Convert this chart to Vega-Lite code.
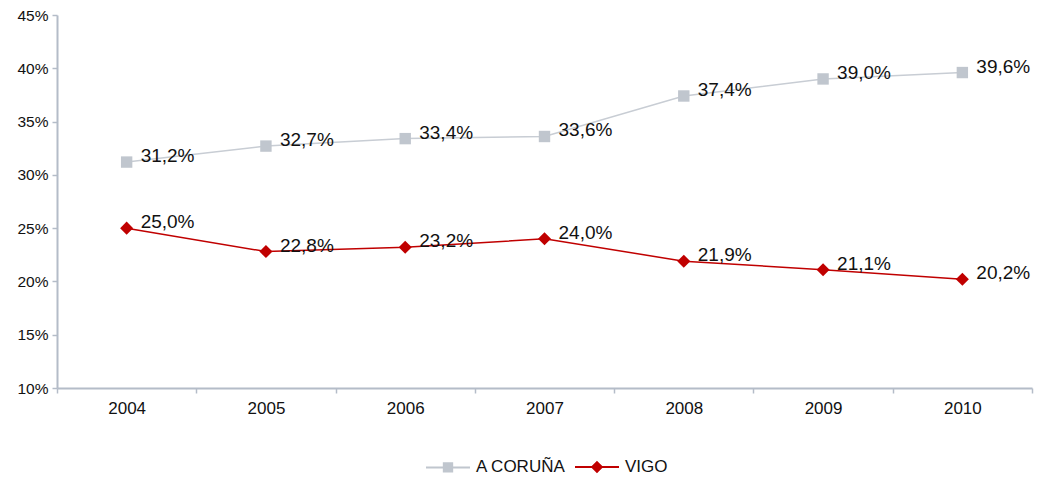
{
  "$schema": "https://vega.github.io/schema/vega-lite/v6.json",
  "width": 975,
  "height": 373,
  "autosize": {"type": "none"},
  "padding": {"left": 57, "top": 15, "right": 7, "bottom": 91},
  "background": "white",
  "config": {
    "view": {"stroke": null},
    "font": "Liberation Sans",
    "locale": {"number": {"decimal": ",", "thousands": ".", "grouping": [3], "currency": ["", " €"]}},
    "axis": {"grid": false, "domainColor": "#B4BCC8", "tickColor": "#B4BCC8", "domainWidth": 2, "tickWidth": 1.5, "tickSize": 5, "labelColor": "#111111", "labelFont": "Liberation Sans", "title": null}
  },
  "data": {"values": [
    {"year": "2004", "series": "A CORUÑA", "value": 0.312},
    {"year": "2005", "series": "A CORUÑA", "value": 0.327},
    {"year": "2006", "series": "A CORUÑA", "value": 0.334},
    {"year": "2007", "series": "A CORUÑA", "value": 0.336},
    {"year": "2008", "series": "A CORUÑA", "value": 0.374},
    {"year": "2009", "series": "A CORUÑA", "value": 0.390},
    {"year": "2010", "series": "A CORUÑA", "value": 0.396},
    {"year": "2004", "series": "VIGO", "value": 0.250},
    {"year": "2005", "series": "VIGO", "value": 0.228},
    {"year": "2006", "series": "VIGO", "value": 0.232},
    {"year": "2007", "series": "VIGO", "value": 0.240},
    {"year": "2008", "series": "VIGO", "value": 0.219},
    {"year": "2009", "series": "VIGO", "value": 0.211},
    {"year": "2010", "series": "VIGO", "value": 0.202}
  ]},
  "encoding": {
    "x": {"field": "year", "type": "ordinal", "bandPosition": 0.5,
      "scale": {"type": "band", "paddingInner": 0, "paddingOuter": 0},
      "axis": {"labelAngle": 0, "tickBand": "extent", "labelFontSize": 17, "labelPadding": 7}},
    "y": {"field": "value", "type": "quantitative",
      "scale": {"domain": [0.1, 0.45], "nice": false, "zero": false},
      "axis": {"values": [0.1, 0.15, 0.2, 0.25, 0.3, 0.35, 0.4, 0.45], "format": ".0%", "labelFontSize": 15.5, "labelPadding": 4}}
  },
  "layer": [
    {
      "transform": [{"filter": "datum.series === 'A CORUÑA'"}],
      "mark": {"type": "line", "strokeWidth": 1.5, "color": "#C8CDD4"}
    },
    {
      "transform": [{"filter": "datum.series === 'VIGO'"}],
      "mark": {"type": "line", "strokeWidth": 1.5, "color": "#C00000"}
    },
    {
      "transform": [{"filter": "datum.series === 'A CORUÑA'"}],
      "mark": {"type": "point", "shape": "square", "filled": true, "opacity": 1, "size": 130, "color": "#C0C6CE"}
    },
    {
      "transform": [{"filter": "datum.series === 'VIGO'"}],
      "mark": {"type": "point", "shape": "diamond", "filled": true, "opacity": 1, "size": 170, "color": "#C00000"}
    },
    {
      "mark": {"type": "text", "align": "left", "baseline": "middle", "dx": 14, "dy": -6, "fontSize": 19, "color": "#111111"},
      "encoding": {"text": {"field": "value", "type": "quantitative", "format": ".1%"}}
    },
    {
      "transform": [{"filter": "datum.value > 1"}],
      "mark": {"type": "point", "filled": true, "strokeWidth": 1.5},
      "encoding": {
        "shape": {"field": "series", "type": "nominal",
          "scale": {"domain": ["A CORUÑA", "VIGO"], "range": ["M-1,0H1M-0.19,-0.19H0.19V0.19H-0.19Z", "M-1,0H1M0,-0.22L0.22,0L0,0.22L-0.22,0Z"]},
          "legend": {"orient": "none", "direction": "horizontal", "legendX": 368, "legendY": 429, "title": null, "symbolSize": 1936, "symbolOpacity": 1, "symbolStrokeWidth": 2, "labelFontSize": 17, "labelColor": "#111111", "labelFont": "Liberation Sans", "labelOffset": 5, "columnPadding": 5}},
        "fill": {"field": "series", "type": "nominal", "scale": {"domain": ["A CORUÑA", "VIGO"], "range": ["#C0C6CE", "#C00000"]}},
        "stroke": {"field": "series", "type": "nominal", "scale": {"domain": ["A CORUÑA", "VIGO"], "range": ["#C0C6CE", "#C00000"]}}
      }
    }
  ]
}
